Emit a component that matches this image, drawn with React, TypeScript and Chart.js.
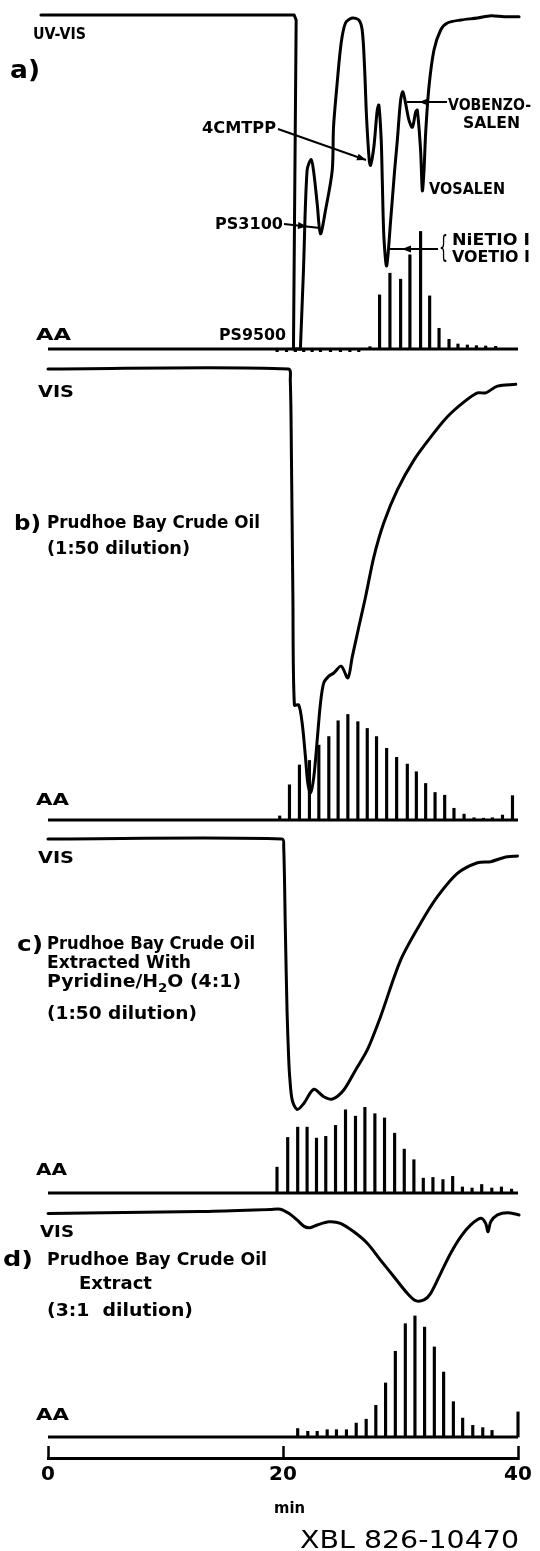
import React, { useEffect, useRef } from "react";
import { Chart, registerables } from "chart.js";

Chart.register(...registerables);

const WIDTH = 540;
const HEIGHT = 1551;
const PLOT_LEFT = 48;
const PLOT_RIGHT = 518;
const AXIS_Y = 1458;

// ---------- x axis ----------
const xMin = 0;
const xMax = 40;
const xStep = 20;
const xTitle = "min";
const figureCode = "XBL 826-10470";

// ---------- panel a) UV-VIS ----------
const aStepTime = [-0.6, 20.95, 21.12, 20.89, 21.48];
const aStepSignal = [100, 100, 98.5, 0, 0];
const aCurveTime = [21.48, 21.74, 22.05, 22.4, 22.63, 22.91, 23.19, 23.61, 24.19, 24.3, 24.61, 24.95, 25.32, 25.89, 26.45, 26.74, 26.94, 27.11, 27.34, 27.45, 27.73, 28.02, 28.16, 28.36, 28.45, 28.59, 28.82, 29.16, 29.5, 29.73, 30.01, 30.2, 30.43, 30.72, 31.01, 31.29, 31.43, 31.71, 31.86, 32.0, 32.14, 32.42, 32.85, 33.42, 33.99, 35.12, 36.55, 37.68, 38.82, 40.09];
const aCurveSignal = [0, 23.4, 53.5, 56.7, 52.5, 43.5, 34.5, 41.4, 53.5, 66.4, 79.6, 91.6, 97.6, 99.1, 98.5, 95.5, 84.4, 69.4, 56.5, 55.0, 60.4, 71.5, 73.0, 62.5, 50.5, 33.3, 24.9, 38.4, 53.5, 62.5, 74.5, 77.0, 73.6, 68.5, 66.4, 70.9, 71.5, 59.5, 47.4, 53.5, 64.6, 78.4, 89.5, 95.5, 97.6, 98.5, 99.1, 99.8, 99.5, 99.5];
const aAaTime = [27.4, 28.22, 29.1, 30.01, 30.8, 31.71, 32.48, 33.28, 34.13, 34.89, 35.69, 36.46, 37.25, 38.1];
const aAaHeight = [0.7, 16.2, 22.7, 20.9, 28.2, 35.2, 15.9, 6.2, 2.9, 1.5, 1.2, 1.0, 0.9, 0.8];
// small recorder marks just below the AA baseline of panel a
const aMarkTime = [19.5, 20.3, 21.05, 21.76, 22.48, 23.19, 24.04, 24.89, 25.69, 26.45];
const aMarkDepth = [-0.8, -0.8, -0.8, -0.8, -0.8, -0.8, -0.8, -0.8, -0.8, -0.8];

// ---------- panel b) ----------
const bTime = [0, 20.45, 20.62, 20.72, 20.84, 20.97, 21.34, 21.63, 21.91, 22.11, 22.34, 22.62, 22.91, 23.19, 23.47, 23.9, 24.32, 24.95, 25.52, 25.89, 26.45, 27.02, 27.73, 28.58, 29.73, 31.14, 32.57, 33.99, 35.41, 36.55, 37.25, 38.25, 39.81];
const bSignal = [100, 100, 97.5, 80, 50, 25.5, 25.5, 21.5, 14.0, 8.2, 6.0, 9.5, 17.7, 25.9, 30.4, 31.9, 32.6, 34.1, 31.5, 36.1, 42.8, 49.4, 58.3, 65.9, 73.2, 79.8, 84.9, 89.4, 92.7, 94.7, 94.7, 96.2, 96.6];
const bAaTime = [19.72, 20.55, 21.4, 22.25, 23.05, 23.9, 24.69, 25.52, 26.37, 27.17, 27.96, 28.82, 29.67, 30.58, 31.35, 32.14, 32.94, 33.76, 34.55, 35.41, 36.26, 37.06, 37.82, 38.68, 39.53];
const bAaHeight = [0.9, 7.8, 12.2, 13.2, 16.6, 18.5, 22.0, 23.4, 21.8, 20.3, 18.5, 15.9, 13.9, 12.4, 10.7, 8.1, 6.1, 5.5, 2.6, 1.3, 0.5, 0.4, 0.5, 1.1, 5.4];

// ---------- panel c) ----------
const cTime = [0, 19.92, 20.06, 20.2, 20.35, 20.49, 20.57, 20.78, 21.2, 21.77, 22.62, 23.47, 24.19, 25.17, 26.17, 27.17, 28.3, 30.01, 31.71, 33.14, 34.84, 36.55, 37.68, 38.82, 39.96];
const cSignal = [100, 100, 97.8, 74.3, 50.8, 37.6, 32.9, 26.3, 23.6, 25.3, 29.3, 27.2, 26.5, 29.1, 34.7, 40.4, 49.8, 65.8, 76.2, 83.7, 90.3, 93.3, 93.6, 94.8, 95.2];
const cAaTime = [19.49, 20.4, 21.25, 22.05, 22.85, 23.64, 24.47, 25.32, 26.17, 26.97, 27.82, 28.64, 29.5, 30.32, 31.14, 31.94, 32.76, 33.61, 34.44, 35.27, 36.09, 36.91, 37.77, 38.59, 39.45];
const cAaHeight = [7.3, 15.7, 18.6, 18.6, 15.5, 16.0, 19.1, 23.5, 21.7, 24.2, 22.4, 21.2, 16.9, 12.4, 9.4, 4.2, 4.4, 3.8, 4.7, 1.7, 1.4, 2.4, 1.4, 1.7, 1.1];

// ---------- panel d) ----------
const dTime = [0, 12.96, 18.93, 19.78, 20.49, 21.2, 21.76, 22.28, 22.91, 23.9, 24.89, 26.03, 27.17, 28.3, 29.44, 30.58, 31.29, 32.0, 32.57, 33.42, 34.27, 35.12, 35.98, 36.83, 37.25, 37.45, 37.68, 38.25, 39.1, 40.09];
const dSignal = [98.0, 98.9, 99.8, 99.9, 98.1, 95.2, 92.5, 91.8, 93.0, 94.4, 93.7, 90.0, 85.0, 77.6, 70.3, 63.0, 59.8, 60.1, 63.0, 71.8, 80.6, 87.8, 93.0, 95.9, 93.7, 90.0, 94.4, 97.4, 98.4, 97.4];
const dAaTime = [21.25, 22.11, 22.91, 23.76, 24.55, 25.4, 26.23, 27.08, 27.9, 28.73, 29.56, 30.41, 31.23, 32.05, 32.88, 33.67, 34.5, 35.29, 36.15, 37.0, 37.79, 40.0];
const dAaHeight = [3.7, 2.5, 2.5, 3.2, 3.2, 3.2, 6.1, 7.8, 13.9, 23.7, 37.6, 49.7, 53.1, 48.2, 39.5, 28.5, 15.5, 8.3, 5.1, 4.1, 2.9, 11.0];

// AA baseline of every panel
const baselineTime = [0, 40];
const baselineSignal = [0, 0];

// ---------- layout (pixel rows of each panel: baseline and 100% level) ----------
const PANELS = [
  { id: "ya", base: 349, top: 15, traces: [[aStepTime, aStepSignal, 0], [aCurveTime, aCurveSignal, 0.3]], aa: [[aAaTime, aAaHeight], [aMarkTime, aMarkDepth]] },
  { id: "yb", base: 820, top: 369, traces: [[bTime, bSignal, 0.3]], aa: [[bAaTime, bAaHeight]] },
  { id: "yc", base: 1193, top: 839, traces: [[cTime, cSignal, 0.3]], aa: [[cAaTime, cAaHeight]] },
  { id: "yd", base: 1437, top: 1209, traces: [[dTime, dSignal, 0.3]], aa: [[dAaTime, dAaHeight]] },
];

const F = (size: number, weight = "bold") => `${weight} ${size}px "DejaVu Sans"`;

type Run = { t: string; f: string; dy?: number };
const LABELS: { runs: Run[]; x: number; y: number; w: number }[] = [
  { runs: [{ t: "UV-VIS", f: F(16) }], x: 33, y: 39, w: 53 },
  { runs: [{ t: "a)", f: F(24) }], x: 10, y: 78, w: 30 },
  { runs: [{ t: "4CMTPP", f: F(15) }], x: 202, y: 133, w: 74 },
  { runs: [{ t: "VOBENZO-", f: F(16) }], x: 448, y: 110, w: 83 },
  { runs: [{ t: "SALEN", f: F(16) }], x: 463, y: 128, w: 57 },
  { runs: [{ t: "VOSALEN", f: F(16) }], x: 429, y: 194, w: 76 },
  { runs: [{ t: "PS3100", f: F(16) }], x: 215, y: 229, w: 68 },
  { runs: [{ t: "PS9500", f: F(16) }], x: 219, y: 340, w: 67 },
  { runs: [{ t: "AA", f: F(16) }], x: 36, y: 340, w: 35 },
  { runs: [{ t: "{", f: F(30, "normal") }], x: 439, y: 257, w: 9 },
  { runs: [{ t: "NiETIO I", f: F(15) }], x: 452, y: 245, w: 78 },
  { runs: [{ t: "VOETIO I", f: F(15) }], x: 452, y: 262, w: 78 },

  { runs: [{ t: "VIS", f: F(16) }], x: 38, y: 397, w: 36 },
  { runs: [{ t: "b)", f: F(22) }], x: 14, y: 530, w: 27 },
  { runs: [{ t: "Prudhoe Bay Crude Oil", f: F(17) }], x: 47, y: 528, w: 213 },
  { runs: [{ t: "(1:50 dilution)", f: F(17) }], x: 47, y: 554, w: 143 },
  { runs: [{ t: "AA", f: F(16) }], x: 36, y: 805, w: 33 },

  { runs: [{ t: "VIS", f: F(16) }], x: 38, y: 863, w: 36 },
  { runs: [{ t: "c)", f: F(22) }], x: 17, y: 951, w: 26 },
  { runs: [{ t: "Prudhoe Bay Crude Oil", f: F(17) }], x: 47, y: 949, w: 208 },
  { runs: [{ t: "Extracted With", f: F(17) }], x: 47, y: 968, w: 144 },
  { runs: [{ t: "Pyridine/H", f: F(17) }, { t: "2", f: F(12), dy: 5 }, { t: "O (4:1)", f: F(17) }], x: 47, y: 987, w: 194 },
  { runs: [{ t: "(1:50 dilution)", f: F(17) }], x: 47, y: 1019, w: 150 },
  { runs: [{ t: "AA", f: F(16) }], x: 36, y: 1175, w: 31 },

  { runs: [{ t: "VIS", f: F(16) }], x: 40, y: 1237, w: 34 },
  { runs: [{ t: "d)", f: F(22) }], x: 3, y: 1266, w: 30 },
  { runs: [{ t: "Prudhoe Bay Crude Oil", f: F(17) }], x: 47, y: 1265, w: 220 },
  { runs: [{ t: "Extract", f: F(17) }], x: 79, y: 1289, w: 73 },
  { runs: [{ t: "(3:1  dilution)", f: F(17) }], x: 47, y: 1316, w: 146 },
  { runs: [{ t: "AA", f: F(16) }], x: 36, y: 1420, w: 33 },

  { runs: [{ t: xTitle, f: F(16) }], x: 274, y: 1513, w: 31 },
  { runs: [{ t: figureCode, f: F(24, "normal") }], x: 300, y: 1548, w: 219 },
];

// annotation arrows: line (x1,y1)->(x2,y2), head tip at (hx,hy)
const ARROWS = [
  { x1: 278, y1: 129, x2: 366, y2: 160, hx: 366, hy: 160 },
  { x1: 284, y1: 224, x2: 320, y2: 228, hx: 307, hy: 226.5 },
  { x1: 447, y1: 102, x2: 407, y2: 102, hx: 419, hy: 102 },
  { x1: 438, y1: 249, x2: 390, y2: 249, hx: 402, hy: 249 },
];

function drawRuns(ctx: CanvasRenderingContext2D, runs: Run[], x: number, y: number, w: number) {
  let total = 0;
  for (const r of runs) {
    ctx.font = r.f;
    total += ctx.measureText(r.t).width;
  }
  const s = w / total;
  ctx.save();
  ctx.translate(x, y);
  ctx.scale(s, 1);
  let cx = 0;
  for (const r of runs) {
    ctx.font = r.f;
    ctx.fillText(r.t, cx, r.dy || 0);
    cx += ctx.measureText(r.t).width;
  }
  ctx.restore();
}

function drawArrow(ctx: CanvasRenderingContext2D, a: any) {
  ctx.beginPath();
  ctx.moveTo(a.x1, a.y1);
  ctx.lineTo(a.x2, a.y2);
  ctx.lineWidth = 2;
  ctx.stroke();
  const dx = a.x2 - a.x1;
  const dy = a.y2 - a.y1;
  const len = Math.hypot(dx, dy);
  const ux = dx / len;
  const uy = dy / len;
  const L = 9;
  const Wd = 3.5;
  ctx.beginPath();
  ctx.moveTo(a.hx, a.hy);
  ctx.lineTo(a.hx - ux * L - uy * Wd, a.hy - uy * L + ux * Wd);
  ctx.lineTo(a.hx - ux * L + uy * Wd, a.hy - uy * L - ux * Wd);
  ctx.closePath();
  ctx.fill();
}

const labelPlugin = {
  id: "figureLabels",
  afterDraw(chart: any) {
    const ctx = chart.ctx as CanvasRenderingContext2D;
    ctx.save();
    ctx.fillStyle = "#000";
    ctx.strokeStyle = "#000";
    ctx.textAlign = "left";
    ctx.textBaseline = "alphabetic";
    for (const l of LABELS) drawRuns(ctx, l.runs, l.x, l.y, l.w);
    for (const a of ARROWS) drawArrow(ctx, a);
    ctx.restore();
  },
};

const zip = (xs: number[], ys: number[]) => xs.map((x, i) => ({ x, y: ys[i] }));

export default function App() {
  const ref = useRef<HTMLCanvasElement | null>(null);

  useEffect(() => {
    if (!ref.current) return;
    const datasets: any[] = [];
    const scales: any = {
      x: {
        type: "linear",
        min: xMin,
        max: xMax,
        position: "bottom",
        offset: false,
        afterFit: (s: any) => {
          s.height = HEIGHT - AXIS_Y;
          s.paddingLeft = 0;
          s.paddingRight = 0;
        },
        grid: {
          display: true,
          offset: false,
          drawOnChartArea: false,
          drawTicks: true,
          tickLength: -12,
          tickWidth: 2.5,
          tickColor: "#000",
        },
        border: { display: true, color: "#000", width: 3 },
        ticks: {
          stepSize: xStep,
          padding: 17,
          color: "#000",
          font: { family: "DejaVu Sans", size: 20, weight: "bold" },
          maxRotation: 0,
          autoSkip: false,
        },
      },
    };
    for (const p of PANELS) {
      const u = 100 / (p.base - p.top);
      scales[p.id] = {
        type: "linear",
        display: false,
        min: -(AXIS_Y - p.base) * u,
        max: p.base * u,
      };
      for (const [t, v, tension] of p.traces as any[]) {
        datasets.push({
          type: "line",
          data: zip(t, v),
          yAxisID: p.id,
          borderColor: "#000",
          borderWidth: 3,
          pointRadius: 0,
          tension,
          fill: false,
          clip: false,
          borderCapStyle: "round",
          borderJoinStyle: "round",
        });
      }
      datasets.push({
        type: "line",
        data: zip(baselineTime, baselineSignal),
        yAxisID: p.id,
        borderColor: "#000",
        borderWidth: 3,
        pointRadius: 0,
        tension: 0,
        fill: false,
        clip: false,
      });
      for (const [t, h] of p.aa as any[]) {
        datasets.push({
          type: "bar",
          data: zip(t, h),
          yAxisID: p.id,
          backgroundColor: "#000",
          borderWidth: 0,
          barThickness: 2.5,
          grouped: false,
          clip: false,
        });
      }
    }

    const chart = new Chart(ref.current, {
      type: "line",
      data: { datasets },
      options: {
        responsive: false,
        maintainAspectRatio: false,
        devicePixelRatio: 1,
        animation: false,
        events: [],
        layout: { padding: { left: PLOT_LEFT, right: WIDTH - PLOT_RIGHT, top: 0, bottom: 0 } },
        plugins: { legend: { display: false }, tooltip: { enabled: false }, title: { display: false } },
        scales,
      },
      plugins: [labelPlugin],
    } as any);
    return () => chart.destroy();
  }, []);

  return (
    <div style={{ position: "absolute", left: 0, top: 0, width: WIDTH, height: HEIGHT, background: "#fff" }}>
      <canvas ref={ref} width={WIDTH} height={HEIGHT} style={{ display: "block", width: WIDTH, height: HEIGHT }} />
    </div>
  );
}
